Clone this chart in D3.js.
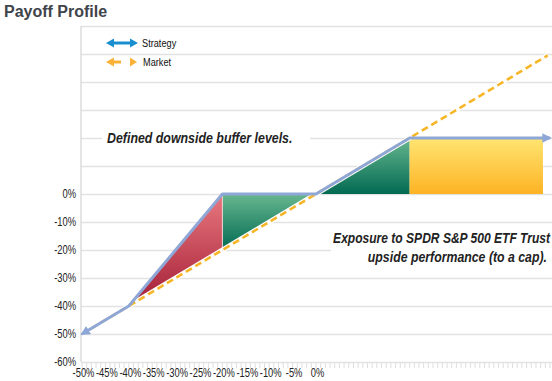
<!DOCTYPE html>
<html><head><meta charset="utf-8">
<script src="https://cdn.jsdelivr.net/npm/d3@7"></script>
<style>
html,body{margin:0;padding:0;background:#fff;}
svg{display:block;}
</style></head>
<body>
<script>
// ---- data ----
const title = "Payoff Profile";
const xTickValues = [-50,-45,-40,-35,-30,-25,-20,-15,-10,-5,0];
const xTickLabels = ["-50%","-45%","-40%","-35%","-30%","-25%","-20%","-15%","-10%","-5%","0%"];
const yTickValues = [0,-10,-20,-30,-40,-50,-60];
const yTickLabels = ["0%","-10%","-20%","-30%","-40%","-50%","-60%"];
const gridValues = [60,50,40,30,20,10,0,-10,-20,-30,-40,-50,-60];
const marketX = [-50, 49.5];
const marketY = [-50, 49.5];
const strategyX = [-50, -40, -20, 0, 20, 50];
const strategyY = [-50, -40, 0, 0, 20, 20];
// shaded zones: [x, upper, lower]
const redZone = [[-40,-40,-40],[-20,0,-20]];
const greenZoneA = [[-20,0,-20],[0,0,0]];
const greenZoneB = [[0,0,0],[20,20,0]];
const capZone = [[20,20,0],[48.5,20,0]];
const legendLabels = ["Strategy","Market"];
const note1 = "Defined downside buffer levels.";
const note2 = ["Exposure to SPDR S&P 500 ETF Trust","upside performance (to a cap)."];

// ---- layout ----
const W = 552, H = 381;
const svg = d3.select("body").append("svg").attr("width",W).attr("height",H);
const x = d3.scaleLinear().domain([-50,50]).range([82,550]);
const y = d3.scaleLinear().domain([-60,60]).range([362,26]);
const font = "'Liberation Sans Narrow','Arial Narrow',Arial,'Liberation Sans',sans-serif";
const cond = "scale(0.8,1)";

const defs = svg.append("defs");
function vgrad(id, top, bottom){
  const g = defs.append("linearGradient").attr("id",id).attr("x1",0).attr("y1",0).attr("x2",0).attr("y2",1);
  g.append("stop").attr("offset","0%").attr("stop-color",top);
  g.append("stop").attr("offset","100%").attr("stop-color",bottom);
}
vgrad("gRed","#e8787f","#a31d35");
vgrad("gGreen","#67b78f","#026a52");
vgrad("gYellow","#ffe572","#fdb324");

// title
svg.append("text").attr("x",4).attr("y",17).text(title)
  .attr("font-family","Arial,'Liberation Sans',sans-serif").attr("font-weight","bold")
  .attr("font-size",16).attr("fill","#40444a");

// grid
svg.append("g").selectAll("line").data(gridValues).join("line")
  .attr("x1",81).attr("x2",552).attr("y1",d=>y(d)+0.5).attr("y2",d=>y(d)+0.5)
  .attr("stroke","#e2e2e2").attr("stroke-width",1.5);
// left axis line
svg.append("line").attr("x1",81).attr("x2",81).attr("y1",26).attr("y2",362)
  .attr("stroke","#dcdcdc").attr("stroke-width",1.5);
// minor x ticks
svg.append("g").selectAll("line").data(d3.range(-50,51,1)).join("line")
  .attr("x1",d=>x(d)).attr("x2",d=>x(d)).attr("y1",363).attr("y2",368)
  .attr("stroke","#dedede").attr("stroke-width",1);

// axes labels via d3 axes
const yAxis = d3.axisLeft(y).tickValues(yTickValues).tickFormat((d,i)=>yTickLabels[i]).tickSize(0).tickPadding(0);
svg.append("g").attr("transform","translate(76,0)").call(yAxis)
  .call(g=>g.select(".domain").remove())
  .call(g=>g.selectAll("text").attr("font-family",font).attr("font-size",12).attr("fill","#222").attr("transform","scale(0.78,1)"));
const xAxis = d3.axisBottom(x).tickValues(xTickValues).tickFormat((d,i)=>xTickLabels[i]).tickSize(0).tickPadding(0);
svg.append("g").attr("transform","translate(1,368)").call(xAxis)
  .call(g=>g.select(".domain").remove())
  .call(g=>g.selectAll("text").attr("font-family",font).attr("font-size",12).attr("fill","#222").attr("transform","scale(0.78,1)"));

// text boxes (white background)
svg.append("rect").attr("x",102).attr("y",126).attr("width",208).attr("height",22).attr("fill","#fff");
svg.append("rect").attr("x",331).attr("y",228).attr("width",221).attr("height",40).attr("fill","#fff");

// zones
const area = d3.area().x(d=>x(d[0])).y0(d=>y(d[2])).y1(d=>y(d[1]));
svg.append("path").datum(redZone).attr("d",area).attr("fill","url(#gRed)");
svg.append("path").datum(greenZoneA).attr("d",area).attr("fill","url(#gGreen)");
svg.append("path").datum(greenZoneB).attr("d",area).attr("fill","url(#gGreen)");
svg.append("path").datum(capZone).attr("d",area).attr("fill","url(#gYellow)");
svg.append("line").attr("x1",x(-20)).attr("x2",x(-20)).attr("y1",y(0)).attr("y2",y(-20))
  .attr("stroke","#f3d0d4").attr("stroke-width",1);

// market line
const line = d3.line().x(d=>x(d[0])).y(d=>y(d[1]));
const mPts = marketX.map((v,i)=>[v,marketY[i]]);
svg.append("path").datum(mPts).attr("d",line).attr("fill","none").attr("stroke","#fff").attr("stroke-width",5);
svg.append("path").datum(mPts).attr("d",line).attr("fill","none").attr("stroke","#f7b628")
  .attr("stroke-width",2.6).attr("stroke-dasharray","7,4");

// strategy line
const sPts = strategyX.map((v,i)=>[v,strategyY[i]]);
const sCol = "#8fa7d6";
defs.append("marker").attr("id","arrS").attr("viewBox","0 0 10 10").attr("refX",8).attr("refY",5)
  .attr("markerWidth",3.2).attr("markerHeight",3.2).attr("orient","auto-start-reverse")
  .append("path").attr("d","M0,0L10,5L0,10z").attr("fill",sCol);
svg.append("path").datum(sPts).attr("d",line).attr("fill","none").attr("stroke",sCol)
  .attr("stroke-width",3).attr("stroke-linejoin","round")
  .attr("marker-start","url(#arrS)").attr("marker-end","url(#arrS)");

// legend
const lg = svg.append("g");
const blue = "#1a8fcf", orange = "#f9b236";
lg.append("line").attr("x1",112).attr("x2",132).attr("y1",43).attr("y2",43).attr("stroke",blue).attr("stroke-width",3);
lg.append("path").attr("d","M106,43L114,38.5L114,47.5z").attr("fill",blue);
lg.append("path").attr("d","M138,43L130,38.5L130,47.5z").attr("fill",blue);
lg.append("line").attr("x1",112).attr("x2",121).attr("y1",62).attr("y2",62).attr("stroke",orange).attr("stroke-width",3);
lg.append("path").attr("d","M106,62L114,57.5L114,66.5z").attr("fill",orange);
lg.append("path").attr("d","M137,62L130,57.5L130,66.5z").attr("fill",orange);
lg.selectAll("text").data(legendLabels).join("text")
  .attr("transform",(d,i)=>`translate(${i?143:142},${i?66:47}) ${cond}`).text(d=>d)
  .attr("font-family",font).attr("font-size",11.5).attr("fill","#111");

// notes
svg.append("text").attr("transform","translate(107,143) scale(0.885,1)").text(note1)
  .attr("font-family",font).attr("font-weight","bold").attr("font-style","italic")
  .attr("font-size",14).attr("fill","#222");
const n2Pos = [[550,243,0.862],[547,262,0.88]];
svg.selectAll("text.n2").data(note2).join("text").attr("class","n2")
  .attr("text-anchor","end")
  .attr("transform",(d,i)=>`translate(${n2Pos[i][0]},${n2Pos[i][1]}) scale(${n2Pos[i][2]},1)`).text(d=>d)
  .attr("font-family",font).attr("font-weight","bold").attr("font-style","italic")
  .attr("font-size",14).attr("fill","#222");
</script>
</body></html>
